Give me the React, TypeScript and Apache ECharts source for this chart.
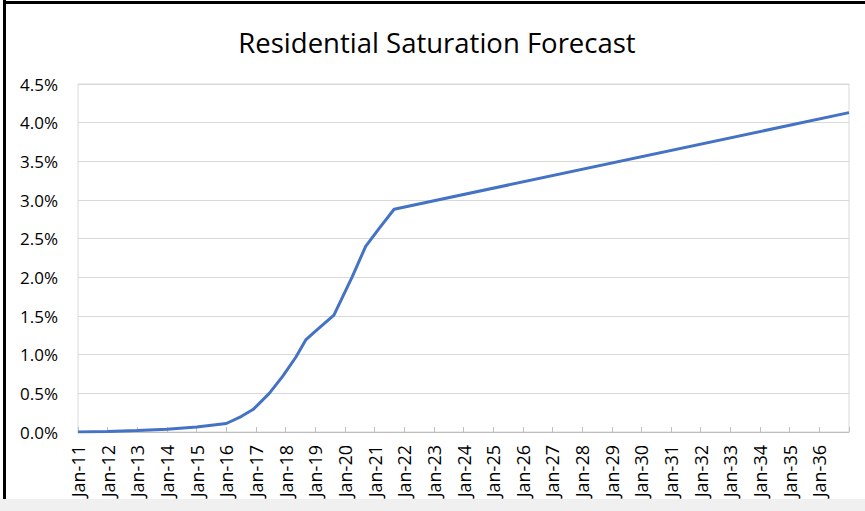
import React, { useEffect, useRef } from "react";
import * as echarts from "echarts";

// Years (fractional = position within the year) where the curve bends
const years = [2011, 2012, 2013, 2014, 2015, 2016, 2016.5, 2016.9, 2017.45, 2017.9, 2018.35, 2018.68, 2019.0, 2019.63, 2020.25, 2020.7, 2021.15, 2021.66, 2037];
// Residential saturation, percent
const saturation = [0.0, 0.008, 0.018, 0.035, 0.065, 0.11, 0.2, 0.29, 0.5, 0.72, 0.97, 1.19, 1.3, 1.51, 2.01, 2.4, 2.63, 2.88, 4.13];
// X tick labels (one per January)
const tickLabels = ["Jan-11", "Jan-12", "Jan-13", "Jan-14", "Jan-15", "Jan-16", "Jan-17", "Jan-18", "Jan-19", "Jan-20", "Jan-21", "Jan-22", "Jan-23", "Jan-24", "Jan-25", "Jan-26", "Jan-27", "Jan-28", "Jan-29", "Jan-30", "Jan-31", "Jan-32", "Jan-33", "Jan-34", "Jan-35", "Jan-36"];
const firstYear = 2011;
const lastYear = 2037;
const title = "Residential Saturation Forecast";

const FONT = "'Open Sans', sans-serif";

export default function App() {
  const ref = useRef<HTMLDivElement>(null);
  useEffect(() => {
    if (!ref.current) return;
    const chart = echarts.init(ref.current, undefined, { renderer: "svg" });
    const data = years.map((y, i) => [y, saturation[i]]);
    chart.setOption({
      animation: false,
      backgroundColor: "#ffffff",
      grid: {
        left: 78,
        right: 16,
        top: 84,
        bottom: 79,
        show: true,
        borderColor: "#d9d9d9",
        borderWidth: 1,
      },
      graphic: [
        { type: "rect", shape: { x: 3, y: 0, width: 3, height: 499 }, style: { fill: "#000" }, silent: true },
        { type: "rect", shape: { x: 3, y: 1, width: 862, height: 3 }, style: { fill: "#000" }, silent: true },
        { type: "rect", shape: { x: 0, y: 499, width: 865, height: 12 }, style: { fill: "#f0f0f0" }, silent: true },
        {
          type: "text",
          x: 437,
          y: 42,
          style: {
            text: title,
            fontFamily: FONT,
            fontSize: 27.5,
            fill: "#000",
            textAlign: "center",
            textVerticalAlign: "middle",
          },
          silent: true,
        },
      ],
      xAxis: {
        type: "value",
        min: firstYear,
        max: lastYear,
        interval: 1,
        axisLine: { show: true, lineStyle: { color: "#bfbfbf", width: 1 } },
        axisTick: { show: true, inside: true, length: 5, lineStyle: { color: "#bfbfbf" } },
        splitLine: { show: false },
        axisLabel: {
          rotate: 90,
          margin: 13,
          fontFamily: FONT,
          fontSize: 18,
          color: "#000",
          showMaxLabel: true,
          formatter: (v: number) => {
            const idx = Math.round(v) - firstYear;
            return tickLabels[idx] ?? "";
          },
        },
      },
      yAxis: {
        type: "value",
        min: 0,
        max: 4.5,
        interval: 0.5,
        axisLine: { show: false },
        axisTick: { show: false },
        splitLine: { show: true, lineStyle: { color: "#d9d9d9", width: 1 } },
        axisLabel: {
          margin: 20,
          fontFamily: FONT,
          fontSize: 17,
          color: "#000",
          formatter: (v: number) => v.toFixed(1) + "%",
        },
      },
      series: [
        {
          type: "line",
          data,
          showSymbol: false,
          lineStyle: { color: "#4472C4", width: 3 },
          itemStyle: { color: "#4472C4" },
        },
      ],
    });
    return () => chart.dispose();
  }, []);
  return (
    <div
      ref={ref}
      style={{ position: "fixed", left: 0, top: 0, width: 865, height: 511 }}
    />
  );
}
